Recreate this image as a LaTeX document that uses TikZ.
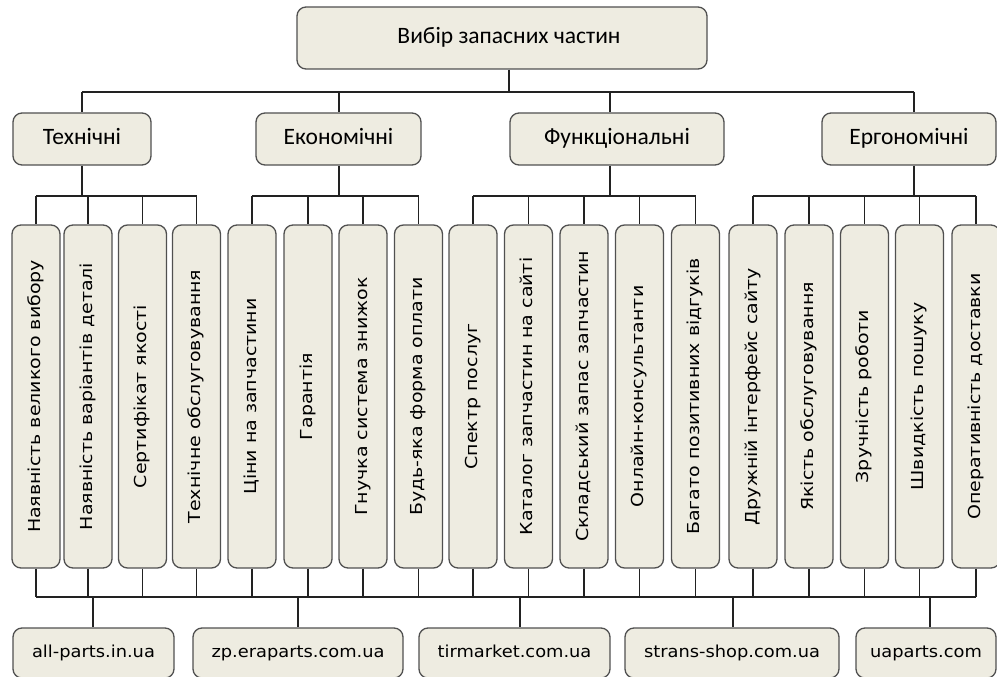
\documentclass[tikz,border=0pt]{standalone}
\usepackage{fontspec}
\setmainfont{DejaVu Sans}
\newfontfamily\widefont[FakeStretch=1.15]{DejaVu Sans}
\newfontfamily\sitefont[FakeStretch=1.08]{DejaVu Sans}
\newfontfamily\calfont{Carlito}
\definecolor{boxfill}{HTML}{EEECE1}
\definecolor{boxline}{HTML}{505050}
\definecolor{wire}{HTML}{222222}
\begin{document}
\begin{tikzpicture}[x=1pt,y=-1pt,
  basebox/.style={draw=boxline,fill=boxfill,line width=1.3pt,rounded corners=9pt,inner sep=0pt,anchor=center},
  topbox/.style={basebox,minimum width=410pt,minimum height=62pt,font=\calfont\fontsize{23.5}{28}\selectfont,text height=15pt,text depth=4pt},
  catbox/.style={basebox,minimum height=52pt,font=\calfont\fontsize{23.5}{28}\selectfont,text height=15pt,text depth=4pt},
  leafbox/.style={basebox,minimum width=48pt,minimum height=343pt},
  leaftext/.style={rotate=90,font=\widefont\fontsize{16.5}{20}\selectfont,inner sep=0pt,text height=12pt,text depth=3.5pt},
  sitebox/.style={basebox,minimum height=50pt,font=\sitefont\fontsize{16.5}{20}\selectfont,text height=12pt,text depth=3.5pt},
  conn/.style={draw=wire,line width=1.5pt}]
\useasboundingbox (0,0) rectangle (997,677);
% top
\node[topbox] (top) at (502,38) {\hspace*{14pt}Вибір запасних частин};
% categories
\node[catbox,minimum width=138pt] (tech) at (82,139) {Технічні};
\node[catbox,minimum width=165pt] (econ) at (338.5,139) {Економічні};
\node[catbox,minimum width=214pt] (func) at (617,139) {Функціональні};
\node[catbox,minimum width=174pt] (ergo) at (909,139) {Ергономічні};
% leaves
\foreach \i/\x/\t in {
  1/36/{Наявність великого вибору},
  2/88/{Наявність варіантів деталі},
  3/142.5/{Сертифікат якості},
  4/196.5/{Технічне обслуговування},
  5/252/{Ціни на запчастини},
  6/308/{Гарантія},
  7/363/{Гнучка система знижок},
  8/418.5/{Будь-яка форма оплати},
  9/473/{Спектр послуг},
  10/528.5/{Каталог запчастин на сайті},
  11/584/{Складський запас запчастин},
  12/639.5/{Онлайн-консультанти},
  13/695.5/{Багато позитивних відгуків},
  14/753/{Дружній інтерфейс сайту},
  15/809/{Якість обслуговування},
  16/864.5/{Зручність роботи},
  17/919.5/{Швидкість пошуку},
  18/976/{Оперативність доставки}}{
  \node[leafbox] (l\i) at (\x,396.5) {};
  \node[leaftext] (lt\i) at (l\i.center) {\t};
}
% sites
\node[sitebox,minimum width=161pt] (s1) at (93.5,653) {all-parts.in.ua};
\node[sitebox,minimum width=210pt] (s2) at (298,653) {zp.eraparts.com.ua};
\node[sitebox,minimum width=191pt] (s3) at (514.5,653) {tirmarket.com.ua};
\node[sitebox,minimum width=214pt] (s4) at (732,653) {strans-shop.com.ua};
\node[sitebox,minimum width=140pt] (s5) at (926,653) {uaparts.com};
% top connectors
\coordinate (tb) at (509,92);
\coordinate (tc1) at (82,92);
\coordinate (tc2) at (339,92);
\coordinate (tc3) at (610,92);
\coordinate (tc4) at (914,92);
\draw[conn] (top.south -| tb) -- (tb);
\draw[conn] (tc1) -- (tc4);
\draw[conn] (tc1) -- (tc1 |- tech.north);
\draw[conn] (tc2) -- (tc2 |- econ.north);
\draw[conn] (tc3) -- (tc3 |- func.north);
\draw[conn] (tc4) -- (tc4 |- ergo.north);
% category buses
\coordinate (b1) at (82,196);
\coordinate (b2) at (339,196);
\coordinate (b3) at (610,196);
\coordinate (b4) at (914,196);
\draw[conn] (tech.south -| b1) -- (b1);
\draw[conn] (econ.south -| b2) -- (b2);
\draw[conn] (func.south -| b3) -- (b3);
\draw[conn] (ergo.south -| b4) -- (b4);
\draw[conn] (l1.north |- b1) -- (l4.north |- b1);
\draw[conn] (l5.north |- b1) -- (l8.north |- b1);
\draw[conn] (l9.north |- b1) -- (l13.north |- b1);
\draw[conn] (l14.north |- b1) -- (l18.north |- b1);
\foreach \i in {1,...,18}{
  \draw[conn] (l\i.north |- b1) -- (l\i.north);
}
% bottom bus
\coordinate (bb) at (0,597);
\foreach \i in {1,...,18}{
  \draw[conn] (l\i.south) -- (l\i.south |- bb);
}
\draw[conn] (l1.south |- bb) -- (l18.south |- bb);
\foreach \i/\x in {1/93,2/298,3/520,4/733,5/930}{
  \coordinate (sd\i) at (\x,597);
  \draw[conn] (sd\i) -- (sd\i |- s\i.north);
}
\end{tikzpicture}
\end{document}
